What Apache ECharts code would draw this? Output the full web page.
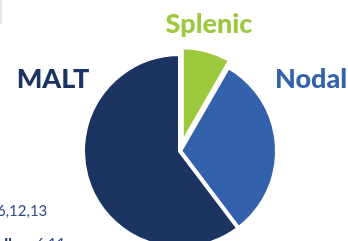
<!DOCTYPE html>
<html>
<head>
<meta charset="utf-8">
<script src="https://cdn.jsdelivr.net/npm/echarts@6/dist/echarts.min.js"></script>
<style>
html,body{margin:0;padding:0;background:#fff;}
#pie{width:348px;height:241px;}
</style>
</head>
<body>
<div id="pie"></div>
<script>
// 数据
var sites = ['Splenic', 'Nodal', 'MALT'];
var shares = [8.3, 31.4, 60.3];
var siteColors = ['#9cc83b', '#3461ab', '#1c3461'];
// 标签位置 (x, y)
var labelPos = [[209, 24], [311, 79], [53, 79]];

// 名称标签
var nameLabels = sites.map(function (s, i) {
    return {
        type: 'text',
        x: labelPos[i][0],
        y: labelPos[i][1],
        style: {
            text: s,
            fill: siteColors[i],
            font: '900 27px Lato',
            align: 'center',
            verticalAlign: 'middle'
        }
    };
});

var optionPie = {
    animation: false,
    graphic: [
        {type: 'rect', shape: {x: 0, y: 0, width: 2, height: 24}, style: {fill: '#e3e9f1'}},
        {type: 'text', left: -3, top: 204, style: {text: '6,12,13', fill: '#2e4c8c', font: '15px Lato'}},
        {type: 'text', left: 4, top: 237, style: {text: 'Ileum', fill: '#1c3461', font: 'bold 15px Lato'}},
        {type: 'text', left: 36, top: 237, style: {text: '6,11', fill: '#2e4c8c', font: '15px Lato'}}
    ].concat(nameLabels),
    series: [
        {
            type: 'pie',
            center: [180, 151],
            radius: 97,
            startAngle: 90,
            clockwise: true,
            selectedMode: 'single',
            selectedOffset: 7,
            itemStyle: {
                borderColor: '#fff',
                borderWidth: 4
            },
            label: {show: false},
            labelLine: {show: false},
            emphasis: {disabled: true},
            data: sites.map(function (s, i) {
                return {
                    name: s,
                    value: shares[i],
                    selected: i === 0,
                    itemStyle: {color: siteColors[i]}
                };
            })
        }
    ]
};

var myPie = echarts.init(document.getElementById('pie'));
myPie.setOption(optionPie);
</script>
</body>
</html>
